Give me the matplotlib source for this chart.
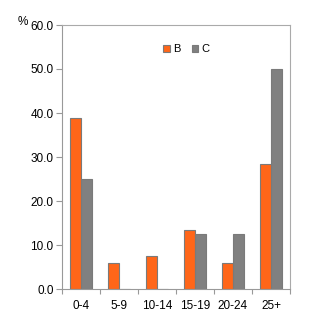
import numpy as np
import matplotlib
matplotlib.use("Agg")
import matplotlib.pyplot as plt

plt.rcParams['font.family'] = ['Liberation Sans', 'DejaVu Sans']

# age groups and percentages per series
categories = ["0-4", "5-9", "10-14", "15-19", "20-24", "25+"]
series_b = [38.8, 6.0, 7.5, 13.5, 6.0, 28.3]
series_c = [25.0, 0.0, 0.0, 12.5, 12.5, 50.0]

orange = "#ff6619"
grey = "#808080"
edge = "#7a7a7a"

fig = plt.figure(figsize=(3.18, 3.2), dpi=100)
ax = fig.add_axes([62 / 318, 1 - 289 / 320, 228 / 318, 264 / 320])

x = np.arange(len(categories))
w = 0.29
ax.bar(x - w / 2, series_b, w, color=orange, edgecolor=edge, linewidth=0.8, label="B")
ax.bar(x + w / 2, series_c, w, color=grey, edgecolor=edge, linewidth=0.8, label="C")

ax.set_xlim(-0.5, len(categories) - 0.5)
ax.set_ylim(0, 60)
ax.set_yticks(np.arange(0, 61, 10))
ax.set_yticklabels([f"{v:.1f}" for v in np.arange(0, 61, 10)], fontsize=8.5)

ax.set_xticks(x)
ax.set_xticklabels(categories, fontsize=8.5)
ax.tick_params(axis="x", length=0, pad=8)
ax.set_xticks(np.arange(-0.5, len(categories)), minor=True)
ax.tick_params(axis="x", which="minor", length=3.5, color="#999999", width=0.8)
ax.tick_params(axis="y", length=4, color="#999999", width=0.8, pad=2)

for s in ax.spines.values():
    s.set_color("#aaaaaa")
    s.set_linewidth(0.8)
ax.spines["left"].set_color("#999999")
ax.spines["bottom"].set_color("#999999")

fig.text(18 / 318, 1 - 22 / 320, "%", fontsize=8.5, ha="left", va="center")

ax.legend(loc="upper left", bbox_to_anchor=(0.40, 0.965), ncol=2, frameon=False,
          fontsize=8, handlelength=0.6, handleheight=0.6, handletextpad=0.3,
          columnspacing=1.0)

fig.savefig("out.png", dpi=100)
